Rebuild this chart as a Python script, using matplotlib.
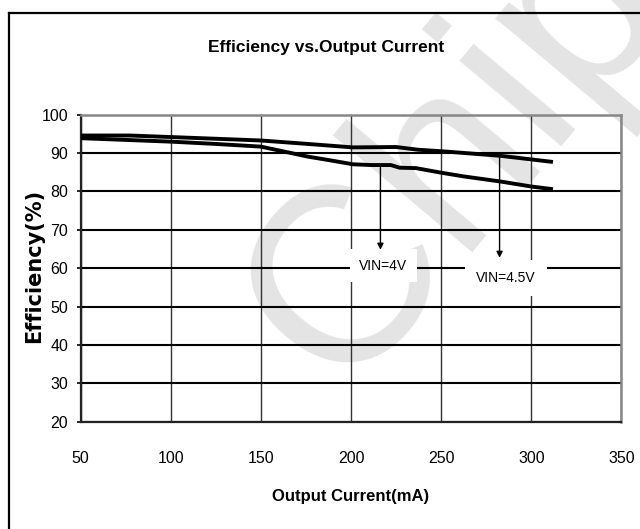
import matplotlib
matplotlib.use("Agg")
import matplotlib.pyplot as plt
from matplotlib import font_manager
from matplotlib.lines import Line2D

# efficiency data
current_4v = [50, 100, 125, 150, 176, 190, 201, 211, 222, 227, 236, 250, 263, 283, 300, 312]
eff_4v = [93.9, 93.0, 92.4, 91.7, 89.1, 88.0, 87.1, 86.9, 86.9, 86.2, 86.1, 84.9, 83.9, 82.6, 81.3, 80.6]

current_45v = [50, 77, 100, 150, 176, 201, 225, 237, 253, 283, 312]
eff_45v = [94.6, 94.6, 94.2, 93.3, 92.4, 91.5, 91.6, 90.9, 90.4, 89.3, 87.7]

x_ticks = [50, 100, 150, 200, 250, 300, 350]
y_ticks = [20, 30, 40, 50, 60, 70, 80, 90, 100]


def has_font(name):
    try:
        font_manager.findfont(name, fallback_to_default=False)
        return True
    except ValueError:
        return False


# the datasheet uses a condensed Arial, use a narrow face if there is one
if has_font('Liberation Sans Narrow'):
    narrow = ['Liberation Sans Narrow', 'DejaVu Sans']
    sz_tick, sz_title, sz_xlab, sz_vin = 12.5, 14, 14, 11
else:
    narrow = ['Liberation Sans', 'DejaVu Sans']
    sz_tick, sz_title, sz_xlab, sz_vin = 11.5, 12.5, 12, 10
plt.rcParams['font.family'] = narrow

fig = plt.figure(figsize=(6.4, 5.29), dpi=100)

# faint watermark behind everything
fig.text(0.714, 0.707, 'Chip', fontsize=180, color='#e4e4e4', rotation=50,
         ha='center', va='center', family='Liberation Sans', zorder=-5)

ax = fig.add_axes([0.126, 0.203, 0.845, 0.580])
ax.set_facecolor('none')

ax.plot(current_45v, eff_45v, color='black', lw=2.8, solid_capstyle='butt', zorder=4)
ax.plot(current_4v, eff_4v, color='black', lw=2.8, solid_capstyle='butt', zorder=4)

ax.set_xlim(50, 350)
ax.set_ylim(20, 100)
ax.set_xticks(x_ticks)
ax.set_yticks(y_ticks)
ax.tick_params(axis='x', length=0, pad=21, labelsize=sz_tick)
ax.tick_params(axis='y', length=3, width=1.2, pad=6, labelsize=sz_tick)

ax.yaxis.grid(True, color='black', lw=1.5)
ax.xaxis.grid(True, color='#333333', lw=1.0)
ax.set_axisbelow(True)

for side in ['left', 'bottom']:
    ax.spines[side].set_color('#222222')
    ax.spines[side].set_linewidth(1.6)
for side in ['top', 'right']:
    ax.spines[side].set_color('#888888')
    ax.spines[side].set_linewidth(1.8)

# VIN labels with arrows pointing at the curves
arrow = dict(arrowstyle='-|>', color='black', lw=1.0, mutation_scale=9, shrinkA=0, shrinkB=0)
ax.annotate('', xy=(216.3, 64.8), xytext=(216.3, 86.9), arrowprops=arrow, zorder=5)
ax.annotate('', xy=(282.4, 62.7), xytext=(282.4, 89.3), arrowprops=arrow, zorder=5)
ax.text(218, 60.7, 'VIN=4V', fontsize=sz_vin, ha='center', va='center', zorder=6,
        bbox=dict(boxstyle='square,pad=0.65', fc='white', ec='none'))
ax.text(286, 57.5, 'VIN=4.5V', fontsize=sz_vin, ha='center', va='center', zorder=6,
        bbox=dict(boxstyle='square,pad=0.8', fc='white', ec='none'))

fig.text(0.509, 0.911, 'Efficiency vs.Output Current', fontsize=sz_title, fontweight='bold',
         ha='center', va='center')
fig.text(0.548, 0.061, 'Output Current(mA)', fontsize=sz_xlab, fontweight='bold',
         ha='center', va='center')
fig.text(0.053, 0.497, 'Efficiency(%)', fontsize=15, fontweight='bold', rotation=90,
         ha='center', va='center', family='DejaVu Sans')

# outer frame, cut off at the right and bottom like the scan
fig.add_artist(Line2D([8.5 / 640, 8.5 / 640], [0, 1 - 13 / 529], color='black', lw=1.6))
fig.add_artist(Line2D([8.5 / 640, 1], [1 - 13 / 529, 1 - 13 / 529], color='black', lw=1.6))

fig.savefig('out.png', dpi=100, facecolor='white')
